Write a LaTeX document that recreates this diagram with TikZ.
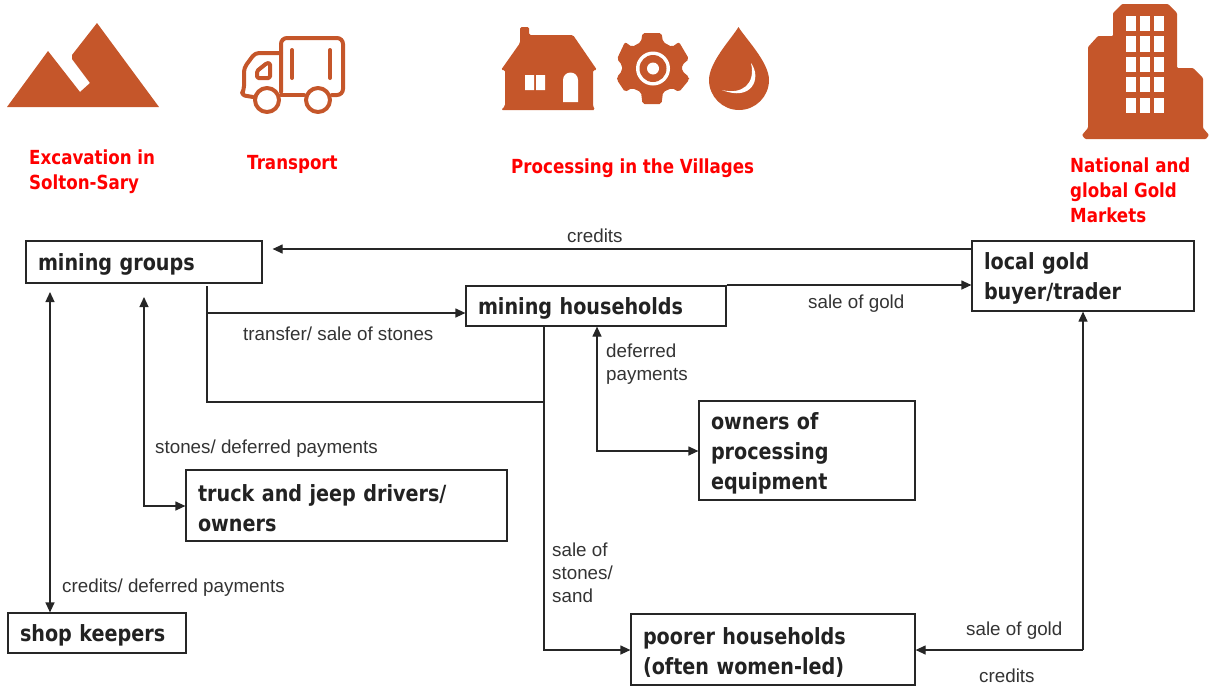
\documentclass[tikz,border=0pt]{standalone}
\usepackage{fontspec}
\setmainfont{Liberation Sans}
\newfontfamily\boxfont{DejaVu Sans Bold}[FakeStretch=0.86]
\usetikzlibrary{arrows.meta}
\definecolor{icon}{HTML}{C5562A}
\definecolor{lab}{HTML}{333333}
\definecolor{boxtxt}{HTML}{222222}
\tikzset{
 mbox/.style 2 args={draw=black!85,line width=1.2pt,inner xsep=12pt,inner ysep=0pt,
   minimum width=#1pt,minimum height=#2pt,text width=\dimexpr#1pt-24pt\relax,align=left,
   text=boxtxt,font=\boxfont\fontsize{22.3}{30}\selectfont,
   execute at begin node={\rule{0pt}{22pt}}},
 lbl/.style={anchor=west,inner sep=0pt,align=left,text=lab,font=\fontsize{18.8}{23}\selectfont},
 hdr/.style={anchor=west,inner sep=0pt,align=left,text=red,font=\boxfont\fontsize{19.4}{25}\selectfont},
 conn/.style={draw=black!85,line width=1.2pt},
 arr/.style={conn,-{Triangle[length=10pt,width=9pt]}},
 darr/.style={conn,{Triangle[length=10pt,width=9pt]}-{Triangle[length=10pt,width=9pt]}},
 icl/.style={draw=icon,line width=4pt,line join=round,line cap=round},
}
\begin{document}
\begin{tikzpicture}[x=1pt,y=-1pt]
\useasboundingbox (0,0) rectangle (1212,686);
% mountain
\fill[icon] (7,107)--(48,51)--(80,92)--(90,83)--(72,59)--(72,55)--(97,23)--(159,107)--cycle;
% truck
\draw[icl,rounded corners=6pt] (281,92)--(281,38)--(343,38)--(343,95)--(332,95);
\draw[icl] (304,95)--(281,95);
\draw[icl,rounded corners=4pt] (281,53)--(255,53)--(244,68)--(244,90)--(241,95)--(253,97);
\draw[icl,fill=white,rounded corners=1.5pt] (257,78)--(257,71)--(267,63)--(270,63)--(270,78)--cycle;
\draw[icl,fill=white] (267,100) circle (12);
\draw[icl,fill=white] (318,100) circle (12);
\draw[icl] (292,50)--(292,78);
\draw[icl] (330,50)--(330,78);
% house
\fill[icon,rounded corners=1.5pt] (520,27)--(529,27)--(529,35)--(573,35)--(597,70)--(593,70)--(593,106)--(595,110)--(501,110)--(505,106)--(505,70)--(501,70)--(520,43)--cycle;
\fill[white] (525,75) rectangle (534,90) (536,75) rectangle (545,90);
\fill[white] (563,102)--(563,80) arc[start angle=180,end angle=360,radius=7.5]--(578,102)--cycle;
% gear
\fill[icon,rounded corners=2pt] (642.5,33)--(661.5,33)--(663,42)--(672,47)--(679,42)--(689,59)--(682,65)--(682,71)--(689,77)--(689,80)--(679,92)--(672,88)--(663,92)--(661.5,104)--(642.5,104)--(641,92)--(632,88)--(625,92)--(617,80)--(617,77)--(622,71)--(622,65)--(617,59)--(625,42)--(632,47)--(641,42)--cycle;
\fill[white] (653,68.5) circle (17);
\fill[icon] (653,68.5) circle (13.5);
\fill[white] (653,68.5) circle (6);
% drop
\fill[icon] (738.5,27) .. controls (745,38) and (769,62) .. (769,80) arc[start angle=0,end angle=180,radius=30] .. controls (709,62) and (732,38) .. (738.5,27)--cycle;
\fill[white] (751,63) .. controls (762,78) and (752,102) .. (722,90) .. controls (742,95) and (756,84) .. (751,63)--cycle;
% building
\fill[icon,rounded corners=1pt] (1122,4)--(1168,4)--(1177,13)--(1177,68)--(1193,68)--(1203,78)--(1203,128)--(1209,135)--(1206,139)--(1085,139)--(1082,135)--(1088,128)--(1088,47)--(1098,36)--(1113,36)--(1113,13)--cycle;
\foreach \yy/\hh in {16/15,36/16,57/15,77/15,98/15}{
  \foreach \xx in {1126,1140,1154}{
    \fill[white] (\xx,\yy) rectangle ++(10,\hh);
  }
}
% headings
\node[hdr] (h1) at (29,172) {Excavation in\\Solton-Sary};
\node[hdr] (h2) at (247,164) {Transport};
\node[hdr] (h3) at (511,168) {Processing in the Villages};
\node[hdr] (h4) at (1070,190.5) {National and\\global Gold\\Markets};
% boxes
\node[mbox={236}{42}] (groups) at (144,262) {mining groups};
\node[mbox={260}{40}] (house) at (596,306) {mining households};
\node[mbox={222}{70}] (buyer) at (1083,276) {local gold\\buyer/trader};
\node[mbox={216}{99}] (owners) at (807,450.5) {owners of\\processing\\equipment};
\node[mbox={321}{71}] (truck) at (346.5,505.5) {truck and jeep drivers/\\owners};
\node[mbox={178}{40}] (shop) at (97,633) {shop keepers};
\node[mbox={284}{71}] (poor) at (773,649.5) {poorer households\\(often women-led)};
% connectors
\draw[arr,shorten >=10pt] (buyer.west |- 0,249) -- (groups.east |- 0,249);
\draw[arr] (house.east |- 0,285) -- (buyer.west |- 0,285);
\draw[arr] (207,286) |- (house.west |- 0,313);
\draw[conn] (207,313) |- (544,402);
\draw[arr] (544,326) |- (poor.west |- 0,650);
\draw[darr] (house.south -| 597,0) |- (owners.west |- 0,451);
\draw[darr] (144,297) |- (truck.west |- 0,506);
\draw[darr] (50,292) -- (shop.north -| 50,0);
\coordinate (corner) at (1083,650);
\draw[arr] (corner) -- (poor.east |- corner);
\draw[arr] (corner) -- (buyer.south -| corner);
% labels
\node[lbl] (l1) at (567,236) {credits};
\node[lbl] (l2) at (808,303.5) {sale of gold};
\node[lbl] (l3) at (243,334) {transfer/ sale of stones};
\node[lbl] (l4) at (606,364.5) {deferred\\payments};
\node[lbl] (l5) at (155,448.5) {stones/ deferred payments};
\node[lbl] (l6) at (552,572.5) {sale of\\stones/\\sand};
\node[lbl] (l7) at (62,587.5) {credits/ deferred payments};
\node[lbl] (l8) at (966,630.5) {sale of gold};
\node[lbl] (l9) at (979,676) {credits};
\end{tikzpicture}
\end{document}
